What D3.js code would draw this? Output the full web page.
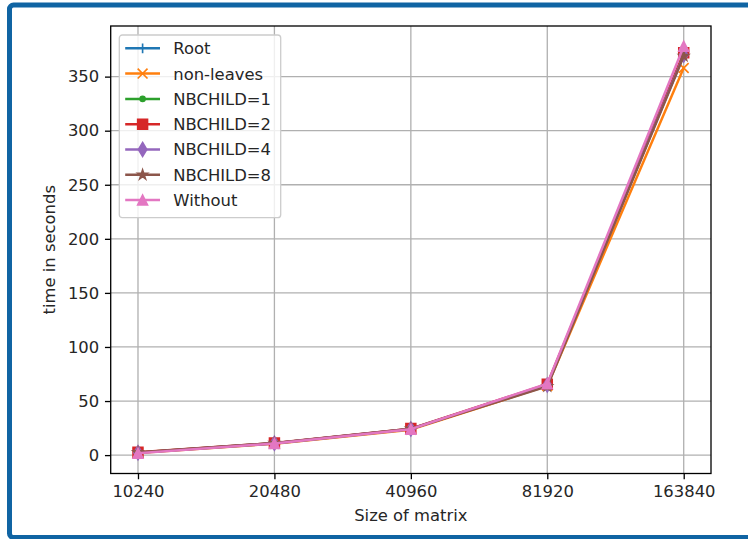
<!DOCTYPE html>
<html>
<head>
<meta charset="utf-8">
<script src="https://cdn.jsdelivr.net/npm/d3@7"></script>
<style>
  html, body { margin: 0; padding: 0; background: #fff; }
  svg text { font-family: "DejaVu Sans", sans-serif; fill: #262626; }
</style>
</head>
<body>
<svg id="chart" width="748" height="539"></svg>
<script>
"use strict";

// matrix sizes (x axis) and timings in seconds for each variant
const sizes = [10240, 20480, 40960, 81920, 163840];
const sizeLabels = ["10240", "20480", "40960", "81920", "163840"];
const seriesNames = ["Root", "non-leaves", "NBCHILD=1", "NBCHILD=2", "NBCHILD=4", "NBCHILD=8", "Without"];
const rootTimes = [2.3, 10.8, 24.0, 64.5, 370];
const nonLeavesTimes = [2.1, 10.5, 23.5, 64.0, 358];
const nb1Times = [2.4, 11.0, 24.2, 65.0, 371];
const nb2Times = [2.6, 11.2, 24.5, 65.5, 372];
const nb4Times = [2.2, 10.9, 24.1, 64.8, 370];
const nb8Times = [2.5, 11.1, 24.3, 63.5, 369];
const withoutTimes = [1.8, 10.7, 24.0, 66.0, 378];
const yTicks = [0, 50, 100, 150, 200, 250, 300, 350];

const colors = ["#1f77b4", "#ff7f0e", "#2ca02c", "#d62728", "#9467bd", "#8c564b", "#e377c2"];
const markers = ["plus", "x", "point", "square", "thinDiamond", "star", "triangle"];

const series = seriesNames.map((name, i) => ({
    name: name,
    values: [rootTimes, nonLeavesTimes, nb1Times, nb2Times, nb4Times, nb8Times, withoutTimes][i],
    color: colors[i],
    marker: markers[i]
}));

const pt = 1.64; // px per point
const ms = 6 * pt;

const svg = d3.select("#chart");

// outer frame
svg.append("rect")
    .attr("x", 9.5).attr("y", 5)
    .attr("width", 800).attr("height", 532.5)
    .attr("rx", 4)
    .attr("fill", "none")
    .attr("stroke", "#1064a3")
    .attr("stroke-width", 5);

const plot = { left: 110.7, right: 711, top: 26, bottom: 473.5 };

const lx = Math.log2(sizes[0]), hx = Math.log2(sizes[sizes.length - 1]);
const padX = (hx - lx) * 0.05;
const x = d3.scaleLog().base(2)
    .domain([Math.pow(2, lx - padX), Math.pow(2, hx + padX)])
    .range([plot.left, plot.right]);

const allVals = series.flatMap(s => s.values);
const yMin = d3.min(allVals), yMax = d3.max(allVals);
const padY = (yMax - yMin) * 0.05;
const y = d3.scaleLinear()
    .domain([yMin - padY, yMax + padY])
    .range([plot.bottom, plot.top]);

// grid
const grid = svg.append("g");
grid.selectAll(".gx").data(sizes).enter().append("line")
    .attr("x1", d => x(d)).attr("x2", d => x(d))
    .attr("y1", plot.top).attr("y2", plot.bottom)
    .attr("stroke", "#b0b0b0").attr("stroke-width", 0.8 * pt);
grid.selectAll(".gy").data(yTicks).enter().append("line")
    .attr("x1", plot.left).attr("x2", plot.right)
    .attr("y1", d => y(d)).attr("y2", d => y(d))
    .attr("stroke", "#b0b0b0").attr("stroke-width", 0.8 * pt);

// axes
const xAxis = d3.axisBottom(x)
    .tickValues(sizes)
    .tickFormat((d, i) => sizeLabels[i])
    .tickSize(3.5 * pt).tickPadding(3.5 * pt);
const yAxis = d3.axisLeft(y)
    .tickValues(yTicks)
    .tickFormat(d3.format("d"))
    .tickSize(3.5 * pt).tickPadding(3.5 * pt);

const gx = svg.append("g").attr("transform", `translate(0,${plot.bottom})`).call(xAxis);
const gy = svg.append("g").attr("transform", `translate(${plot.left},0)`).call(yAxis);
[gx, gy].forEach(g => {
    g.select(".domain").remove();
    g.selectAll(".tick line").attr("stroke", "#000").attr("stroke-width", 0.8 * pt);
    g.selectAll(".tick text").attr("font-size", "16.4px").attr("fill", "#262626")
        .attr("font-family", "DejaVu Sans, sans-serif");
});

// markers
const markerPath = (type, s) => {
    const h = s / 2;
    switch (type) {
        case "plus": return `M${-h},0H${h}M0,${-h}V${h}`;
        case "x": return `M${-h},${-h}L${h},${h}M${-h},${h}L${h},${-h}`;
        case "point": {
            const r = s / 4;
            return `M${r},0A${r},${r},0,1,1,${-r},0A${r},${r},0,1,1,${r},0Z`;
        }
        case "square": return `M${-h},${-h}H${h}V${h}H${-h}Z`;
        case "thinDiamond": {
            const d = s * Math.SQRT1_2;
            const w = d * 0.6;
            return `M0,${-d}L${w},0L0,${d}L${-w},0Z`;
        }
        case "star": {
            const pts = [];
            for (let k = 0; k < 10; k++) {
                const r = k % 2 === 0 ? h : h * 0.381966;
                const a = -Math.PI / 2 + k * Math.PI / 5;
                pts.push([r * Math.cos(a), r * Math.sin(a)]);
            }
            return "M" + pts.map(p => p.join(",")).join("L") + "Z";
        }
        case "triangle": return `M0,${-h}L${h},${h}L${-h},${h}Z`;
    }
};

const line = d3.line().x((d, i) => x(sizes[i])).y(d => y(d));

const drawMarker = (g, type, color, cx, cy) => {
    const filled = !(type === "plus" || type === "x");
    g.append("path")
        .attr("d", markerPath(type, ms))
        .attr("transform", `translate(${cx},${cy})`)
        .attr("fill", filled ? color : "none")
        .attr("stroke", color)
        .attr("stroke-width", 1 * pt)
        .attr("stroke-linejoin", "miter");
};

const lines = svg.append("g");
series.forEach(s => {
    const g = lines.append("g");
    g.append("path")
        .attr("d", line(s.values))
        .attr("fill", "none")
        .attr("stroke", s.color)
        .attr("stroke-width", 1.5 * pt)
        .attr("stroke-linejoin", "round")
        .attr("stroke-linecap", "square");
    s.values.forEach((v, i) => drawMarker(g, s.marker, s.color, x(sizes[i]), y(v)));
});

// spines
svg.append("rect")
    .attr("x", plot.left).attr("y", plot.top)
    .attr("width", plot.right - plot.left).attr("height", plot.bottom - plot.top)
    .attr("fill", "none").attr("stroke", "#000").attr("stroke-width", 0.8 * pt);

// axis labels
svg.append("text")
    .attr("x", (plot.left + plot.right) / 2).attr("y", 521)
    .attr("text-anchor", "middle")
    .attr("font-size", "16.4px")
    .text("Size of matrix");
svg.append("text")
    .attr("transform", `translate(55,${(plot.top + plot.bottom) / 2}) rotate(-90)`)
    .attr("text-anchor", "middle")
    .attr("font-size", "16.4px")
    .text("time in seconds");

// legend
const legend = svg.append("g").attr("transform", "translate(119.3,35)");
legend.append("rect")
    .attr("width", 161.4).attr("height", 182.7)
    .attr("rx", 3)
    .attr("fill", "rgba(255,255,255,0.8)")
    .attr("stroke", "#cccccc")
    .attr("stroke-width", 0.8 * pt);
const items = legend.selectAll(".legend-item")
    .data(series)
    .enter()
    .append("g")
    .attr("class", "legend-item")
    .attr("transform", (d, i) => `translate(0,${13.3 + i * 25.3})`);
items.append("line")
    .attr("x1", 5.9).attr("x2", 40.7)
    .attr("stroke", d => d.color)
    .attr("stroke-width", 1.5 * pt);
items.each(function (d) {
    drawMarker(d3.select(this), d.marker, d.color, 23.3, 0);
});
items.append("text")
    .attr("x", 54)
    .attr("y", 5.9)
    .attr("font-size", "16.4px")
    .text(d => d.name);
</script>
</body>
</html>
